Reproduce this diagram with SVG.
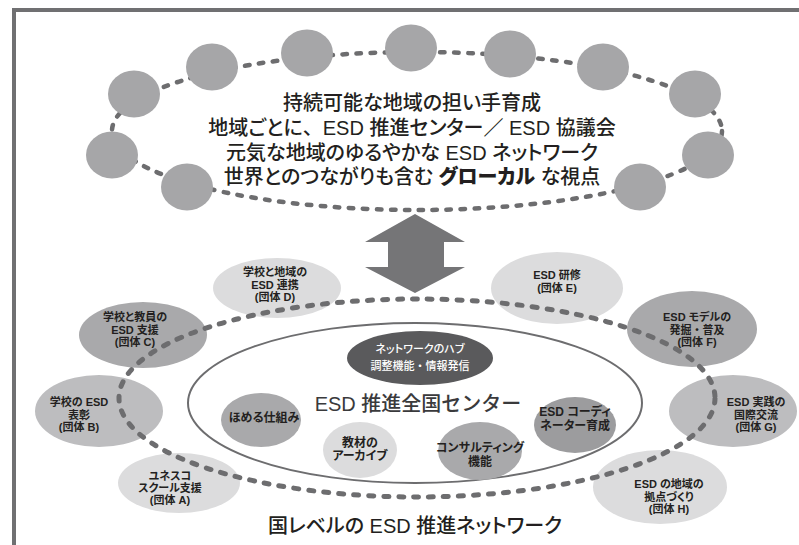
<svg xmlns="http://www.w3.org/2000/svg" width="799" height="545" viewBox="0 0 799 545">
<style>
text { font-family: "Liberation Sans", "Noto Sans CJK JP", sans-serif; fill: #231f20; font-feature-settings: "palt" 1; text-anchor: middle; }
.top { font-size: 20px; font-weight: 500; }
.n { font-size: 11px; font-weight: 700; }
.ni { font-size: 12px; font-weight: 700; }
.full { font-feature-settings: normal; }
.light { fill: #dcdcdd; }
.mid { fill: #bdbdbf; }
.dark { fill: #a9a9ab; }
.darker { fill: #9c9c9e; }
.circle { fill: #a6a6a8; }
.dash-top { fill: none; stroke: #6d6d6f; stroke-width: 4.5; stroke-dasharray: 4.5 9.5; stroke-linecap: round; }
.dash-bot { fill: none; stroke: #6d6d6f; stroke-width: 5; stroke-dasharray: 5 10; stroke-linecap: round; }
</style>
<rect width="799" height="545" fill="#ffffff"/>
<path d="M14 547 V10 H801" fill="none" stroke="#707072" stroke-width="4"/>

<!-- outer network nodes -->
<g id="node-d"><ellipse class="light" cx="277" cy="288" rx="64" ry="30"/>
<text class="n" x="275" y="276">学校と地域の</text><text class="n" x="275" y="288.5">ESD 連携</text><text class="n" x="275" y="301">(団体 D)</text></g>
<g id="node-c"><ellipse class="dark" cx="143" cy="335" rx="64" ry="33"/>
<text class="n" x="135" y="321">学校と教員の</text><text class="n" x="135" y="333.5">ESD 支援</text><text class="n" x="135" y="346">(団体 C)</text></g>
<g id="node-b"><ellipse class="mid" cx="99" cy="411" rx="64" ry="36"/>
<text class="n" x="79" y="406">学校の ESD</text><text class="n" x="79" y="418.5">表彰</text><text class="n" x="79" y="431">(団体 B)</text></g>
<g id="node-a"><ellipse class="light" cx="179" cy="483" rx="61" ry="30"/>
<text class="n" x="170" y="480">ユネスコ</text><text class="n" x="170" y="492">スクール支援</text><text class="n" x="170" y="504">(団体 A)</text></g>
<g id="node-e"><ellipse class="light" cx="557" cy="288" rx="66" ry="36"/>
<text class="n" x="557" y="279">ESD 研修</text><text class="n" x="557" y="292">(団体 E)</text></g>
<g id="node-f"><ellipse class="dark" cx="692" cy="329" rx="65" ry="38"/>
<text class="n" x="697" y="321">ESD モデルの</text><text class="n full" x="697" y="333.5">発掘・普及</text><text class="n" x="697" y="346">(団体 F)</text></g>
<g id="node-g"><ellipse class="mid" cx="733" cy="411" rx="64" ry="36"/>
<text class="n" x="756" y="406">ESD 実践の</text><text class="n" x="756" y="418.5">国際交流</text><text class="n" x="756" y="431">(団体 G)</text></g>
<g id="node-h"><ellipse class="light" cx="660" cy="487" rx="67" ry="37"/>
<text class="n" x="669" y="488">ESD の地域の</text><text class="n" x="669" y="500.5">拠点づくり</text><text class="n" x="669" y="513">(団体 H)</text></g>

<!-- connectors -->
<g id="connectors">
<ellipse class="dash-top" cx="417" cy="131" rx="305" ry="79"/>
<ellipse class="dash-bot" cx="417" cy="398" rx="298" ry="99"/>
<polygon points="415,214 465,242 444,242 444,267 465,267 415,293 365,267 388,267 388,242 365,242" fill="#757577"/>
</g>

<!-- regional network circles -->
<g id="regional-circles">
<ellipse class="circle" cx="112" cy="155" rx="26" ry="23.5"/>
<ellipse class="circle" cx="134" cy="94" rx="26" ry="23.5"/>
<ellipse class="circle" cx="187" cy="187" rx="26" ry="23.5"/>
<ellipse class="circle" cx="212" cy="67" rx="26" ry="23.5"/>
<ellipse class="circle" cx="307" cy="53" rx="26" ry="23.5"/>
<ellipse class="circle" cx="411" cy="48" rx="26" ry="23.5"/>
<ellipse class="circle" cx="510" cy="54" rx="26" ry="23.5"/>
<ellipse class="circle" cx="603" cy="67" rx="26" ry="23.5"/>
<ellipse class="circle" cx="695" cy="94" rx="26" ry="23.5"/>
<ellipse class="circle" cx="708" cy="155" rx="26" ry="23.5"/>
<ellipse class="circle" cx="640" cy="187" rx="26" ry="23.5"/>
</g>

<g id="regional-text">
<text class="top" x="412" y="110">持続可能な地域の担い手育成</text>
<text class="top" x="412" y="135">地域ごとに<tspan class="full">、</tspan>ESD 推進センター<tspan class="full">／</tspan> ESD 協議会</text>
<text class="top" x="412" y="159.5">元気な地域のゆるやかな ESD ネットワーク</text>
<text class="top" x="412" y="184">世界とのつながりも含む <tspan font-weight="900">グローカル</tspan> な視点</text>
</g>

<!-- national center -->
<g id="national-center">
<ellipse cx="415" cy="403" rx="227" ry="80" fill="none" stroke="#6d6d6f" stroke-width="2"/>
<text class="full" x="418" y="411" style="font-size:20px; font-weight:500; fill:#3a3a3c;">ESD 推進全国センター</text>
</g>
<g id="node-hub"><ellipse cx="420" cy="358" rx="73" ry="27" fill="#5a5a5c"/>
<text x="420" y="353" style="font-size:11px; font-weight:500; fill:#ffffff;">ネットワークのハブ</text>
<text class="full" x="420" y="370" style="font-size:11px; font-weight:500; fill:#ffffff;">調整機能・情報発信</text></g>
<g id="node-praise"><ellipse class="dark" cx="261" cy="420" rx="40" ry="27"/>
<text class="ni" x="264" y="422">ほめる仕組み</text></g>
<g id="node-archive"><ellipse class="light" cx="360" cy="450" rx="37" ry="28"/>
<text class="ni" x="360" y="447">教材の</text><text class="ni" x="360" y="460">アーカイブ</text></g>
<g id="node-consulting"><ellipse class="dark" cx="480" cy="451" rx="42" ry="29"/>
<text class="ni" x="480" y="452">コンサルティング</text><text class="ni" x="480" y="466">機能</text></g>
<g id="node-coordinator"><ellipse class="darker" cx="575" cy="425" rx="41" ry="28"/>
<text class="ni" x="575" y="416">ESD コーディ</text><text class="ni" x="575" y="430">ネーター育成</text></g>

<g id="title"><text x="415" y="533" style="font-size:20px; font-weight:500;">国レベルの ESD 推進ネットワーク</text></g>
</svg>
